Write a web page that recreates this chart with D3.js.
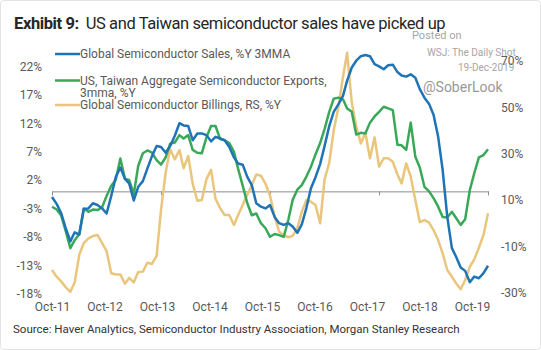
<!DOCTYPE html>
<html>
<head>
<meta charset="utf-8">
<script src="https://cdn.jsdelivr.net/npm/d3@7"></script>
<style>
    body { margin: 0; background: #fff; font-family: Roboto, "Liberation Sans", sans-serif; }
    .axis text { fill: #595959; font-size: 12px; font-family: Roboto, sans-serif; }
    .legend text { fill: #595959; font-size: 12px; }
</style>
</head>
<body>
<div id="chart"></div>
<script>
// monthly data, Oct-11 .. Oct-19
const firstMonth = new Date(2011, 9, 1);
const lastMonth = new Date(2019, 9, 1);

// Global Semiconductor Sales, %Y 3MMA (left axis)
const salesSeries = [
    -1.0, -2.2, -3.8, -6.5, -8.8, -7.2, -7.6, -3.1, -3.0, -2.1, -2.4, -3.0,
    -3.9, -0.8, 2.5, 4.2, 2.2, 1.4, -1.6, 0.8, 1.8, 4.0, 6.2, 8.0,
    7.8, 6.8, 8.0, 9.8, 12.0, 11.6, 11.5, 9.0, 10.2, 10.2, 9.9, 8.8,
    9.6, 9.3, 9.0, 7.8, 6.0, 4.9, 4.7, 2.6, 1.1, -2.1, -2.7, -3.0,
    -2.4, -4.5, -5.6, -5.9, -5.6, -6.2, -7.3, -5.8, -2.9, 0.5, 2.5, 4.8,
    8.0, 11.5, 14.0, 15.3, 16.8, 19.5, 21.8, 23.0, 23.8, 24.0, 23.8, 22.4,
    22.0, 21.5, 22.2, 22.3, 21.0, 20.4, 20.2, 20.6, 20.0, 18.0, 16.5, 15.4,
    13.5, 9.6, 3.8, -4.5, -10.0, -11.5, -13.4, -14.0, -16.0, -15.0, -15.3, -14.4,
    -13.1
];

// US, Taiwan Aggregate Semiconductor Exports, 3mma, %Y (left axis)
const exportsSeries = [
    -2.7, -3.2, -4.2, -7.0, -10.0, -8.6, -7.5, -3.0, -3.6, -3.2, -3.3, -2.8,
    -0.8, 1.0, 2.0, 5.8, 2.2, 2.0, -0.5, 4.5, 6.7, 7.2, 6.8, 5.5,
    4.7, 6.0, 8.4, 8.6, 9.9, 9.3, 9.9, 7.3, 6.8, 6.7, 9.5, 11.5,
    11.5, 9.2, 9.0, 8.5, 7.0, 4.0, 1.0, -2.0, -4.2, -3.9, -5.6, -6.5,
    -8.0, -7.5, -7.7, -8.0, -5.0, -1.5, 0.3, 1.1, 2.6, 4.3, 6.5, 8.5,
    11.0, 14.0, 16.3, 16.5, 16.2, 14.6, 14.0, 10.0, 10.3, 10.2, 12.1, 13.2,
    14.0, 14.9, 14.6, 14.3, 8.2, 8.1, 7.3, 12.1, 6.1, 4.2, 0.8, 0.0,
    -1.2, -2.7, -4.5, -4.6, -3.6, -4.7, -5.9, -4.9, 0.2, 3.2, 6.0, 6.4,
    7.4
];

// Global Semiconductor Billings, RS, %Y (right axis)
const billingsSeries = [
    -20.1, -23.0, -25.0, -27.5, -29.5, -25.5, -13.5, -8.5, -6.5, -5.5, -5.0, -8.5,
    -12.0, -21.5, -22.0, -22.0, -26.0, -23.5, -25.4, -21.0, -20.8, -17.0, -17.5, -14.0,
    6.0, 22.0, 32.0, 27.5, 31.5, 23.7, 29.0, 17.0, 9.7, 10.0, 19.0, 23.0,
    10.5, 6.5, 3.6, 3.6, -0.7, 3.5, 7.9, 12.2, 16.5, 21.0, 20.5, 17.0,
    12.0, 3.0, -3.6, -5.1, -6.0, -5.4, -2.1, 5.0, 10.0, 9.3, 7.9, 0.0,
    19.0, 26.0, 40.0, 50.0, 63.0, 73.4, 52.0, 41.6, 34.4, 39.0, 28.0, 37.0,
    24.4, 28.0, 28.0, 26.5, 21.0, 17.2, 25.8, 20.1, 10.0, 0.5, 1.4, 0.3,
    -2.9, -7.2, -12.9, -20.1, -23.0, -25.8, -28.4, -24.4, -18.7, -15.5, -10.5, -5.0,
    4.3
];

const leftTicks = [22, 17, 12, 7, 2, -3, -8, -13, -18];
const rightTicks = [70, 50, 30, 10, -10, -30];
const xLabels = ["Oct-11", "Oct-12", "Oct-13", "Oct-14", "Oct-15", "Oct-16", "Oct-17", "Oct-18", "Oct-19"];
const axisTickMonths = [new Date(2011, 9, 1), new Date(2013, 9, 1), new Date(2015, 9, 1), new Date(2017, 9, 1), new Date(2019, 9, 1)];

const legendItems = [
    { lines: ["Global Semiconductor Sales, %Y 3MMA"], color: "#1f74b6" },
    { lines: ["US, Taiwan Aggregate Semiconductor Exports,", "3mma, %Y"], color: "#3aa859" },
    { lines: ["Global Semiconductor Billings, RS, %Y"], color: "#eac67c" }
];

const width = 541, height = 350;
const months = d3.timeMonth.range(firstMonth, d3.timeMonth.offset(lastMonth, 1));

const svg = d3.select("#chart").append("svg")
    .attr("width", width)
    .attr("height", height);

// frame
svg.append("rect")
    .attr("x", 0.5).attr("y", 0.5)
    .attr("width", width - 1).attr("height", height - 1)
    .attr("rx", 3)
    .attr("fill", "#fff")
    .attr("stroke", "#e3e3e3");

// title
let title = svg.append("text")
    .attr("x", 14).attr("y", 29)
    .attr("fill", "#262626")
    .style("font-size", "16.5px")
    .style("letter-spacing", "-0.4px");
title.append("tspan").attr("font-weight", "bold").text("Exhibit 9:");
title.append("tspan").attr("dx", 7).text("US and Taiwan semiconductor sales have picked up");

// scales
let x = d3.scaleTime()
    .domain([firstMonth, lastMonth])
    .range([52, 488]);

let xLab = d3.scalePoint()
    .domain(xLabels)
    .range([52, 472]);

let yLeft = d3.scaleLinear()
    .domain([-18, 22])
    .range([293.6, 66.4]);

let yRight = d3.scaleLinear()
    .domain([-30, 70])
    .range([293, 60.7]);

// axes
svg.append("g")
    .attr("class", "axis")
    .attr("transform", "translate(44,0)")
    .call(d3.axisLeft(yLeft).tickValues(leftTicks).tickSize(0).tickPadding(2).tickFormat(d => d + "%"))
    .call(g => g.select(".domain").remove());

svg.append("g")
    .attr("class", "axis")
    .attr("transform", "translate(499,0)")
    .call(d3.axisRight(yRight).tickValues(rightTicks).tickSize(0).tickPadding(2).tickFormat(d => d + "%"))
    .call(g => g.select(".domain").remove());

svg.append("g")
    .attr("class", "axis")
    .attr("transform", "translate(0,299)")
    .call(d3.axisBottom(xLab).tickSize(0).tickPadding(3))
    .call(g => g.select(".domain").remove());

// zero line with ticks
svg.append("g")
    .attr("class", "zero-axis")
    .attr("transform", `translate(0,${yLeft(0)})`)
    .call(d3.axisBottom(x).tickValues(axisTickMonths).tickSize(4).tickSizeOuter(0).tickFormat(""))
    .call(g => g.selectAll("path, line").attr("stroke", "#8c8c8c"));

// series lines
let leftLine = d3.line()
    .x((d, i) => x(months[i]))
    .y(d => yLeft(d));

let rightLine = d3.line()
    .x((d, i) => x(months[i]))
    .y(d => yRight(d));

svg.append("path")
    .datum(billingsSeries)
    .attr("d", rightLine)
    .attr("fill", "none")
    .attr("stroke", legendItems[2].color)
    .attr("stroke-width", 2.5)
    .attr("stroke-linejoin", "round");

svg.append("path")
    .datum(exportsSeries)
    .attr("d", leftLine)
    .attr("fill", "none")
    .attr("stroke", legendItems[1].color)
    .attr("stroke-width", 2.5)
    .attr("stroke-linejoin", "round");

svg.append("path")
    .datum(salesSeries)
    .attr("d", leftLine)
    .attr("fill", "none")
    .attr("stroke", legendItems[0].color)
    .attr("stroke-width", 2.5)
    .attr("stroke-linejoin", "round");

// legend
let legendY = [54, 80.5, 105];
let legend = svg.append("g").attr("class", "legend");
legendItems.forEach((item, i) => {
    legend.append("line")
        .attr("x1", 55).attr("x2", 80)
        .attr("y1", legendY[i]).attr("y2", legendY[i])
        .attr("stroke", item.color)
        .attr("stroke-width", 2.5);
    item.lines.forEach((t, j) => {
        legend.append("text")
            .attr("x", 80)
            .attr("y", legendY[i] + j * 12)
            .attr("dy", "0.35em")
            .text(t);
    });
});

// watermark
let wm = svg.append("g").attr("fill", "#a6a6a6").style("font-size", "10px");
wm.append("text").attr("x", 412).attr("y", 35).attr("dy", "0.35em").style("font-size", "11px").text("Posted on");
wm.append("text").attr("x", 427).attr("y", 52).attr("dy", "0.35em").text("WSJ: The Daily Shot");
wm.append("text").attr("x", 458).attr("y", 67).attr("dy", "0.35em").text("19-Dec-2019");
wm.append("text").attr("x", 423).attr("y", 87.5).attr("dy", "0.35em").attr("fill", "#999").style("font-size", "14px").text("@SoberLook");

// source
svg.append("text")
    .attr("x", 13).attr("y", 328.5)
    .attr("dy", "0.35em")
    .attr("fill", "#333")
    .style("font-size", "11.5px")
    .text("Source: Haver Analytics, Semiconductor Industry Association, Morgan Stanley Research");
</script>
</body>
</html>
